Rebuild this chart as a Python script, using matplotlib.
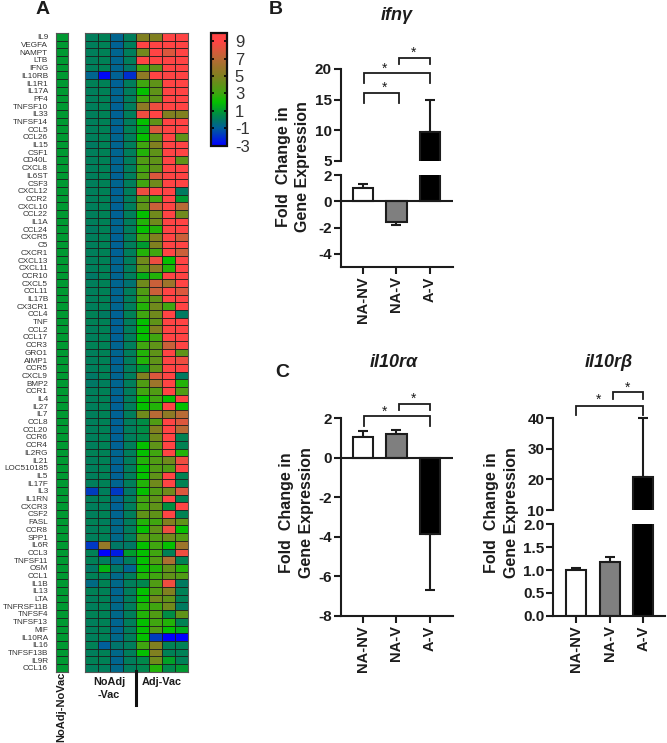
"""Cytokine heat map (A) and fold change bar panels (B, C)."""

import numpy as np
import matplotlib

matplotlib.use("Agg")
import matplotlib.pyplot as plt
from matplotlib.cm import ScalarMappable
from matplotlib.colors import LinearSegmentedColormap, Normalize

plt.rcParams["font.family"] = ["Liberation Sans", "DejaVu Sans"]

FIG_W, FIG_H = 667, 743
INK = "#1c1c1c"

# =============================================================================
# DATA
# =============================================================================
genes = [
    "IL9", "VEGFA", "NAMPT", "LTB", "IFNG", "IL10RB", "IL1R1", "IL17A", "PF4",
    "TNFSF10", "IL33", "TNFSF14", "CCL5", "CCL26", "IL15", "CSF1", "CD40L",
    "CXCL8", "IL6ST", "CSF3", "CXCL12", "CCR2", "CXCL10", "CCL22", "IL1A",
    "CCL24", "CXCR5", "C5", "CXCR1", "CXCL13", "CXCL11", "CCR10", "CXCL5",
    "CCL11", "IL17B", "CX3CR1", "CCL4", "TNF", "CCL2", "CCL17", "CCR3", "GRO1",
    "AIMP1", "CCR5", "CXCL9", "BMP2", "CCR1", "IL4", "IL27", "IL7", "CCL8",
    "CCL20", "CCR6", "CCR4", "IL2RG", "IL21", "LOC510185", "IL5", "IL17F",
    "IL3", "IL1RN", "CXCR3", "CSF2", "FASL", "CCR8", "SPP1", "IL6R", "CCL3",
    "TNFSF11", "OSM", "CCL1", "IL1B", "IL13", "LTA", "TNFRSF11B", "TNFSF4",
    "TNFSF13", "MIF", "IL10RA", "IL16", "TNFSF13B", "IL9R", "CCL16",
]

# single control column, all rows read the same green
noadj_novac = [1.0] * 83

noadj_vac = [
    [0.1, 0.2, -0.8, 0.1], [0.1, 0.2, -0.9, 0.1], [0.1, 0.2, -0.8, 0.1],
    [0.1, 0.2, -0.8, 0.1], [0.1, 0.2, -0.8, -0.1], [-0.8, -2.8, -0.9, -2.0],
    [0.2, 0.2, -0.9, 0.1], [0.1, 0.2, -0.8, 0.1], [0.1, 0.2, -0.8, 0.1],
    [0.1, 0.2, -0.9, 0.1], [0.1, 0.2, -0.9, 0.1], [0.1, 0.2, -0.8, 0.1],
    [0.1, 0.2, -0.9, 0.2], [0.1, 0.2, -0.8, 0.1], [0.0, 0.2, -0.8, 0.1],
    [0.1, 0.2, -0.8, 0.1], [0.1, 0.2, -0.8, 0.1], [0.1, 0.2, -0.8, 0.1],
    [0.1, 0.2, -0.9, 0.1], [0.1, 0.2, -0.8, 0.1], [0.1, 0.2, -0.9, 0.1],
    [0.1, 0.2, -0.8, 0.1], [0.1, 0.2, -0.9, 0.1], [0.1, 0.2, -0.9, 0.1],
    [0.1, 0.2, -0.8, 0.1], [0.0, 0.2, -0.8, 0.1], [0.1, 0.2, -0.9, 0.1],
    [0.1, 0.2, -0.9, 0.1], [0.1, 0.2, -0.9, 0.1], [0.1, 0.2, -0.8, 0.1],
    [0.1, 0.2, -0.8, 0.1], [-0.1, 0.2, -0.8, 0.1], [0.1, 0.2, -0.8, -0.3],
    [0.1, 0.2, -0.8, 0.1], [0.1, 0.2, -0.8, 0.1], [0.1, 0.2, -0.8, 0.1],
    [0.2, 0.0, -0.9, 0.2], [0.2, 0.2, -0.9, 0.1], [0.1, 0.2, -0.9, 0.1],
    [0.1, 0.2, -0.9, 0.1], [0.2, 0.2, -0.8, 0.1], [0.1, 0.2, -0.8, 0.1],
    [0.1, 0.2, -0.9, 0.1], [0.1, 0.2, -0.8, 0.1], [-0.1, 0.2, -0.8, 0.1],
    [-0.1, 0.1, -0.8, 0.1], [0.1, 0.2, -0.8, 0.1], [0.1, 0.2, -0.9, 0.1],
    [0.1, 0.2, -0.9, 0.1], [0.1, 0.2, -0.9, 0.1], [0.1, 0.2, -0.9, 0.1],
    [0.1, 0.2, -0.9, 0.1], [0.1, 0.2, -0.9, 0.1], [0.1, 0.2, -0.9, 0.1],
    [0.2, 0.2, -0.8, 0.1], [0.1, 0.2, -0.8, 0.1], [0.1, 0.2, -0.9, 0.1],
    [0.1, 0.2, -0.9, 0.1], [0.1, 0.2, -0.8, 0.1], [-1.7, 0.1, -1.8, -0.1],
    [0.1, 0.2, -0.8, 0.1], [0.1, 0.1, -0.9, 0.1], [0.1, 0.2, -0.8, 0.1],
    [0.2, 0.1, -0.7, 0.1], [0.1, 0.2, -0.7, 0.1], [0.1, 0.2, -0.7, 0.1],
    [-1.8, 5.7, -0.1, -0.1], [0.2, -3.0, -2.4, 1.1], [0.2, 0.1, -0.8, 0.1],
    [-0.1, 1.7, -0.1, -0.8], [0.2, 0.2, -0.7, 0.1], [-0.6, 0.3, -0.7, 0.1],
    [0.2, 0.2, -0.8, 0.1], [0.1, 0.2, -0.7, 0.1], [0.1, 0.2, -0.7, 0.1],
    [0.2, 0.2, -0.7, 0.1], [0.1, 0.2, -0.8, 0.1], [0.1, 0.2, -0.8, 0.1],
    [0.1, 0.2, -0.7, 0.1], [0.2, -1.0, -0.2, 0.1], [0.1, 0.2, -0.7, 0.1],
    [0.2, 0.2, -0.8, 0.1], [0.1, 0.1, -0.7, 0.1],
]

adj_vac = [
    [5, 5, 9, 9], [9, 9, 9, 9], [4.6, 9, 8, 9], [9, 9, 9, 9],
    [3, 4, 9, 9], [5.5, 9, 9, 9], [3, 4, 9, 9], [2, 4, 9, 9],
    [3, 4, 9, 9], [5.5, 8.5, 9, 9], [8.5, 9, 5, 5], [2, 4, 9, 9],
    [1.5, 8, 9, 9], [2, 4, 9, 4], [3, 5, 9, 9], [2.5, 4, 9, 9],
    [3.5, 4, 9, 4], [3, 4, 9, 9], [3.5, 8, 9, 9], [3, 4.5, 9, 9],
    [8.5, 9, 9, 0], [3.5, 3, 9, 1], [4, 7.5, 9, 7], [2, 4.5, 9, 4.5],
    [2.5, 4.5, 9, 9], [2, 2.5, 9, 9], [3, 5, 9, 7.5], [1, 5, 9, 9],
    [2.5, 3, 9, 7.5], [4.5, 8.5, 2, 9], [4, 5.5, 2.5, 9], [1.5, 2.5, 9, 9],
    [4.5, 7.5, 6, 9], [3.5, 7.5, 9, 8], [3, 4, 9, 9], [2.5, 4.5, 3, 9],
    [3, 4.5, 9, 0], [2, 4, 9, 9], [2, 5, 9, 9], [2, 3, 9, 9],
    [3, 4, 7.5, 9], [2.5, 4, 9, 4], [2.5, 4, 9, 8.5], [1, 4, 9, 9],
    [5, 8, 9, 0], [3.5, 6, 9, 2.5], [3, 3.5, 9, 3.5], [2, 3, 2, 9],
    [2, 2.5, 9, 2], [4.5, 7, 5.5, 7], [0.6, 3.5, 9, 8], [0.6, 5, 9, 7],
    [0.5, 4.5, 9, 0.3], [2, 4, 9, 0.3], [2, 3, 9, 2.5], [2.5, 3.5, 4.5, 8.5],
    [2, 3.5, 3.5, 9], [2, 4, 9, 0.3], [2.5, 4.5, 9, 0.3], [2, 3.5, 4.5, 8],
    [3, 4, 9, 0.3], [3, 4, 0.7, 9], [4, 4, 9, 0.3], [2.5, 3, 5, 4],
    [2, 4, 8.5, 2], [3.5, 3.5, 4.5, 3.5], [2, 3, 2, 6], [2, 3, 0.2, 8.5],
    [2, 3.5, 6.5, 0.3], [2, 2.5, 4, 2.5], [2.5, 3, 4, 3.5], [0.4, 3.5, 8.5, 0],
    [2, 3.5, 5, 0.2], [2, 4.5, 4, 0.2], [2.5, 3, 4.5, 0], [2.5, 3.5, 0.6, 4],
    [2, 3, 2.5, 0.3], [2, 3.5, 2, 1.5], [2, -1.7, -3, -3], [3, 5, 0.2, 0.2],
    [2, 5, 0.2, 0.2], [0.5, 4.5, 1.2, 0.2], [0.4, 2.5, 0.5, 1],
]

bar_labels = ["NA-NV", "NA-V", "A-V"]
bar_colors = ["white", "#7f7f7f", "black"]

ifng_means = [1.05, -1.55, 9.7]
ifng_tops = [1.35, -1.8, 15.0]

il10ra_means = [1.07, 1.22, -3.88]
il10ra_tops = [1.35, 1.42, -6.7]

il10rb_means = [1.0, 1.18, 20.7]
il10rb_tops = [1.05, 1.28, 40.0]

cbar_ticks = [-3, -1, 1, 3, 5, 7, 9]

# colour stops of the heat map scale
scale_stops = [
    (-3, "#0000ff"),
    (-1, "#00609a"),
    (0, "#007a60"),
    (1, "#009a30"),
    (2, "#04c000"),
    (3, "#3fa610"),
    (5, "#808020"),
    (7, "#b86a35"),
    (9, "#ff4444"),
    (10, "#ff4444"),
]


# =============================================================================
# HELPERS
# =============================================================================
def px_axes(fig, left, top, right, bottom):
    return fig.add_axes(
        [
            left / FIG_W,
            1 - bottom / FIG_H,
            (right - left) / FIG_W,
            (bottom - top) / FIG_H,
        ]
    )


def px_text(fig, x, y, s, **kwargs):
    kwargs.setdefault("ha", "center")
    kwargs.setdefault("va", "center")
    kwargs.setdefault("color", INK)
    return fig.text(x / FIG_W, 1 - y / FIG_H, s, **kwargs)


def style_axis(ax, yticks, ylabels, show_x):
    for side in ["top", "right"]:
        ax.spines[side].set_visible(False)
    ax.spines["left"].set_linewidth(1.5)
    ax.spines["left"].set_color(INK)
    ax.spines["bottom"].set_linewidth(1.5)
    ax.spines["bottom"].set_color(INK)
    ax.spines["bottom"].set_visible(show_x)
    ax.set_yticks(yticks)
    ax.set_yticklabels(ylabels, fontsize=11, fontweight="bold", color=INK)
    ax.tick_params(axis="y", length=5, width=1.5, color=INK, pad=1.5)
    if show_x:
        ax.set_xticks([0, 1, 2])
        ax.set_xticklabels(
            bar_labels, rotation=90, fontsize=10.5, fontweight="bold", color=INK
        )
        ax.tick_params(axis="x", length=5, width=1.5, color=INK, pad=2)
    else:
        ax.set_xticks([])
    ax.patch.set_alpha(0)


def draw_bars(ax, means, tops, ylim):
    ax.bar(
        [0, 1, 2],
        means,
        width=0.6,
        color=bar_colors,
        edgecolor=INK,
        linewidth=1.5,
        zorder=2,
    )
    for i, (m, t) in enumerate(zip(means, tops)):
        if ylim[0] <= t <= ylim[1]:
            err = [[max(m - t, 0)], [max(t - m, 0)]]
            ax.errorbar(
                i,
                m,
                yerr=err,
                color=INK,
                elinewidth=1.5,
                capsize=3.5,
                capthick=1.5,
                zorder=1,
                clip_on=False,
            )
    ax.set_ylim(*ylim)


def bracket(ax, x0, x1, top, leg):
    ax.plot(
        [x0, x0, x1, x1],
        [leg, top, top, leg],
        color=INK,
        lw=1.3,
        clip_on=False,
        solid_joinstyle="miter",
    )


def star(ax, x, y):
    ax.text(x, y, "*", ha="center", va="center", fontsize=10, color=INK, clip_on=False)


# =============================================================================
# FIGURE
# =============================================================================
fig = plt.figure(figsize=(FIG_W / 100, FIG_H / 100), dpi=100)

cmap = LinearSegmentedColormap.from_list(
    "heat", [((v + 3) / 13, c) for v, c in scale_stops]
)
norm = Normalize(vmin=-3, vmax=10)

# A: heat map
rows = np.arange(len(genes) + 1)
ax_ctrl = px_axes(fig, 55.5, 33, 68, 671.7)
ax_ctrl.pcolormesh(
    [0, 1], rows, np.array(noadj_novac).reshape(-1, 1),
    cmap=cmap, norm=norm, edgecolors="#1a1a1a", linewidth=0.55, antialiased=True,
)
ax_ctrl.invert_yaxis()
ax_ctrl.set_xticks([])
ax_ctrl.set_yticks(rows[:-1] + 0.5)
ax_ctrl.set_yticklabels(genes, fontsize=5.9, color="#333333")
ax_ctrl.tick_params(axis="y", length=0, pad=5.4)

ax_heat = px_axes(fig, 84.7, 33, 187.7, 671.7)
matrix = np.hstack([np.array(noadj_vac), np.array(adj_vac)])
ax_heat.pcolormesh(
    np.arange(9), rows, matrix,
    cmap=cmap, norm=norm, edgecolors="#1a1a1a", linewidth=0.55, antialiased=True,
)
ax_heat.invert_yaxis()
ax_heat.set_xticks([])
ax_heat.set_yticks([])
for ax in [ax_ctrl, ax_heat]:
    for spine in ax.spines.values():
        spine.set_color("#555555")
        spine.set_linewidth(0.8)

cax = px_axes(fig, 211, 32.5, 226.5, 145.5)
cbar = fig.colorbar(ScalarMappable(norm=norm, cmap=cmap), cax=cax, ticks=cbar_ticks)
cbar.outline.set_linewidth(1.6)
cbar.outline.set_edgecolor("#101010")
cax.tick_params(
    axis="y", direction="in", left=True, right=True, length=2.5, width=1.2,
    labelsize=12, labelcolor="#333333", pad=6,
)
cbar.set_ticklabels([str(t) for t in cbar_ticks])

px_text(fig, 43, 9.5, "A", fontsize=14, fontweight="bold")
px_text(fig, 276, 9.5, "B", fontsize=14, fontweight="bold")
px_text(fig, 282, 372.5, "C", fontsize=14, fontweight="bold")

px_text(fig, 61.5, 707, "NoAdj-NoVac", rotation=90, fontsize=8, fontweight="bold")
px_text(fig, 109, 688.5, "NoAdj\n-Vac", fontsize=7.8, fontweight="bold", linespacing=1.4)
px_text(fig, 161.7, 681.7, "Adj-Vac", fontsize=7.8, fontweight="bold")
fig.add_artist(
    plt.Line2D(
        [135.7 / FIG_W, 135.7 / FIG_W],
        [1 - 671 / FIG_H, 1 - 705 / FIG_H],
        color="#101010",
        lw=2.2,
    )
)

# B: ifn gamma, broken y axis
xlim_left = (-0.657, 2.68)
b_up = px_axes(fig, 341, 69, 452.7, 160.7)
draw_bars(b_up, ifng_means, ifng_tops, (5, 20))
style_axis(b_up, [5, 10, 15, 20], ["5", "10", "15", "20"], False)
b_up.set_xlim(*xlim_left)

b_lo = px_axes(fig, 341, 175.3, 452.7, 266.7)
draw_bars(b_lo, ifng_means, ifng_tops, (-5, 2))
style_axis(b_lo, [-4, -2, 0, 2], ["-4", "-2", "0", "2"], True)
b_lo.axhline(0, color=INK, lw=1.5, zorder=3)
b_lo.set_xlim(*xlim_left)

bracket(b_up, 0.04, 1.08, 16.1, 14.5)
bracket(b_up, 0.04, 2.0, 19.3, 17.7)
bracket(b_up, 1.08, 2.0, 21.8, 20.8)
star(b_up, 0.65, 16.9)
star(b_up, 0.65, 20.0)
star(b_up, 1.52, 22.6)

px_text(fig, 397, 16, "ifnγ", fontsize=13, fontweight="bold", style="italic")
px_text(
    fig, 293, 167, "Fold  Change in\nGene Expression", rotation=90,
    fontsize=11.5, fontweight="bold", linespacing=1.4,
)

# C: il10r alpha
c_left = px_axes(fig, 341, 418.3, 452.7, 615.7)
draw_bars(c_left, il10ra_means, il10ra_tops, (-8, 2))
style_axis(c_left, [-8, -6, -4, -2, 0, 2], ["-8", "-6", "-4", "-2", "0", "2"], True)
c_left.axhline(0, color=INK, lw=1.5, zorder=3)
c_left.set_xlim(*xlim_left)

bracket(c_left, 0.04, 2.0, 2.12, 1.6)
bracket(c_left, 1.08, 2.0, 2.74, 2.42)
star(c_left, 0.65, 2.35)
star(c_left, 1.52, 2.97)

px_text(fig, 394, 362.7, "il10rα", fontsize=13, fontweight="bold", style="italic")
px_text(
    fig, 296.7, 513, "Fold  Change in\nGene Expression", rotation=90,
    fontsize=11.5, fontweight="bold", linespacing=1.4,
)

# C: il10r beta, broken y axis
xlim_right = (-0.687, 2.65)
r_up = px_axes(fig, 553.3, 418.3, 665, 510)
draw_bars(r_up, il10rb_means, il10rb_tops, (10, 40))
style_axis(r_up, [10, 20, 30, 40], ["10", "20", "30", "40"], False)
r_up.set_xlim(*xlim_right)

r_lo = px_axes(fig, 553.3, 524.3, 665, 615.7)
draw_bars(r_lo, il10rb_means, il10rb_tops, (0, 2))
style_axis(r_lo, [0, 0.5, 1, 1.5, 2], ["0.0", "0.5", "1.0", "1.5", "2.0"], True)
r_lo.set_xlim(*xlim_right)

bracket(r_up, 0.0, 2.0, 44.1, 41.1)
bracket(r_up, 1.1, 2.0, 48.5, 46.3)
star(r_up, 0.65, 46.0)
star(r_up, 1.53, 50.1)

px_text(fig, 609, 362.7, "il10rβ", fontsize=13, fontweight="bold", style="italic")
px_text(
    fig, 501.7, 513, "Fold  Change in\nGene Expression", rotation=90,
    fontsize=11.5, fontweight="bold", linespacing=1.4,
)

fig.savefig("out.png", dpi=100)
plt.close(fig)
